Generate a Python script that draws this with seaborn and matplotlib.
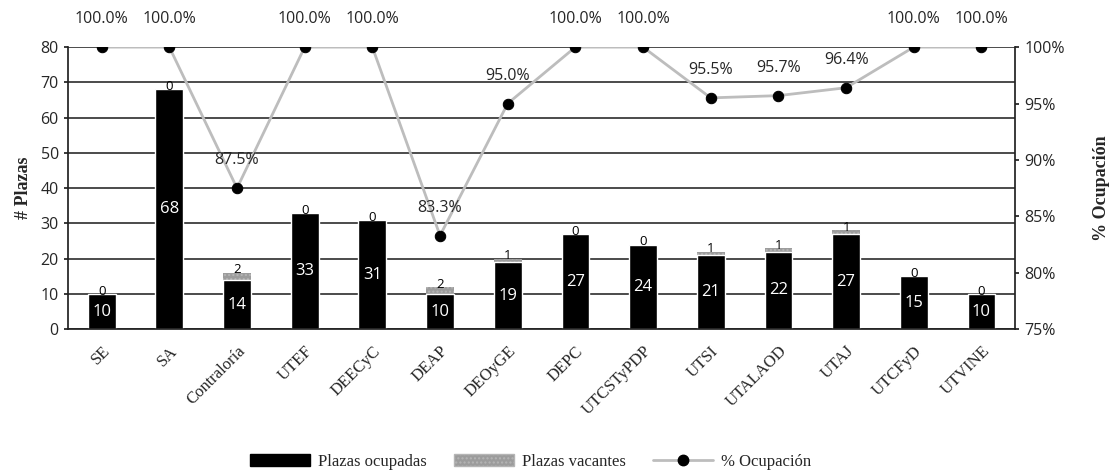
import matplotlib.pyplot as plt
import matplotlib.patches as mpatches
import matplotlib.lines as mlines
import pandas as pd
import seaborn as sns

areas = ["SE", "SA", "Contraloría", "UTEF", "DEECyC", "DEAP", "DEOyGE", "DEPC",
         "UTCSTyPDP", "UTSI", "UTALAOD", "UTAJ", "UTCFyD", "UTVINE"]
ocupadas = [10, 68, 14, 33, 31, 10, 19, 27, 24, 21, 22, 27, 15, 10]
vacantes = [0, 0, 2, 0, 0, 2, 1, 0, 0, 1, 1, 1, 0, 0]
ocupacion = [100.0, 100.0, 87.5, 100.0, 100.0, 83.3, 95.0, 100.0, 100.0,
             95.5, 95.7, 96.4, 100.0, 100.0]

df = pd.DataFrame({"area": areas, "ocupadas": ocupadas, "vacantes": vacantes,
                   "ocupacion": ocupacion})
df["total"] = df["ocupadas"] + df["vacantes"]

sns.set_theme(style="white")
serif = ["Liberation Serif", "DejaVu Serif"]
num_font = ["Open Sans", "DejaVu Sans"]

fig, ax = plt.subplots(figsize=(11.12, 4.71), dpi=100)
fig.subplots_adjust(left=0.061, right=0.913, top=0.900, bottom=0.301)

# stacked bars: total (vacant, gray) behind, occupied (black) on top
sns.barplot(data=df, x="area", y="total", color="#9c9c9c", width=0.41,
            saturation=1, hatch="....", edgecolor="#b5b5b5", linewidth=0, ax=ax)
sns.barplot(data=df, x="area", y="ocupadas", color="black", width=0.41,
            saturation=1, ax=ax)

ax.set_ylim(0, 80)
ax.set_xlim(-0.5, len(areas) - 0.5)
ax.set_yticks(range(0, 81, 10))
ax.yaxis.grid(True, color="#1a1a1a", linewidth=1.1)
ax.set_axisbelow(True)
for s in ["top", "right"]:
    ax.spines[s].set_visible(False)
ax.spines["left"].set_color("#222222")
ax.spines["bottom"].set_color("#222222")

for i, row in df.iterrows():
    ax.text(i, row["ocupadas"] / 2, str(row["ocupadas"]), color="white",
            ha="center", va="center", fontsize=12, family=num_font)
    ax.text(i, row["total"] + 0.8, str(row["vacantes"]), color="black",
            ha="center", va="center", fontsize=9.5, family=num_font)

ax.set_xlabel("")
ax.set_ylabel("# Plazas", fontsize=13, fontweight="bold", family=serif,
              labelpad=6)
ax.set_xticks(range(len(areas)))
ax.set_xticklabels(areas, rotation=45, ha="right", rotation_mode="anchor",
                   fontsize=12, family=serif)
for lab in ax.get_yticklabels():
    lab.set_family(num_font)
    lab.set_fontsize(11.5)
ax.tick_params(axis="y", length=3, color="#222222", left=True)
ax.tick_params(axis="x", pad=4)

# occupation line on secondary axis
ax2 = ax.twinx()
sns.lineplot(data=df, x="area", y="ocupacion", sort=False, color="#bdbdbd",
             linewidth=2, marker="o", markersize=7.5, markerfacecolor="black",
             markeredgecolor="black", ax=ax2)
ax2.set_ylim(75, 100)
ax2.set_yticks(range(75, 101, 5))
ax2.set_yticklabels([f"{v}%" for v in range(75, 101, 5)], family=num_font,
                    fontsize=11.5)
ax2.set_ylabel("% Ocupación", fontsize=13, fontweight="bold", family=serif,
               labelpad=20)
ax2.tick_params(axis="y", right=True, length=3, color="#222222")
for s in ["top", "left", "bottom"]:
    ax2.spines[s].set_visible(False)
ax2.spines["right"].set_color("#222222")
ax2.grid(False)

for i, v in enumerate(ocupacion):
    ax2.annotate(f"{v:.1f}%", (i, v), xytext=(0, 20), textcoords="offset points",
                 ha="center", va="center", fontsize=11.5, family=num_font,
                 annotation_clip=False)

handles = [
    mpatches.Patch(color="black", label="Plazas ocupadas"),
    mpatches.Patch(facecolor="#9c9c9c", hatch="....", edgecolor="#b5b5b5",
                   label="Plazas vacantes"),
    mlines.Line2D([], [], color="#bdbdbd", linewidth=2, marker="o",
                  markersize=7.5, markerfacecolor="black",
                  markeredgecolor="black", label="% Ocupación"),
]
fig.legend(handles=handles, loc="center", bbox_to_anchor=(0.477, 0.02), ncol=3,
           frameon=False, prop={"family": serif, "size": 12}, columnspacing=1.6,
           handlelength=3.6, handletextpad=0.5)

plt.savefig("out.png", dpi=100)
plt.close()
